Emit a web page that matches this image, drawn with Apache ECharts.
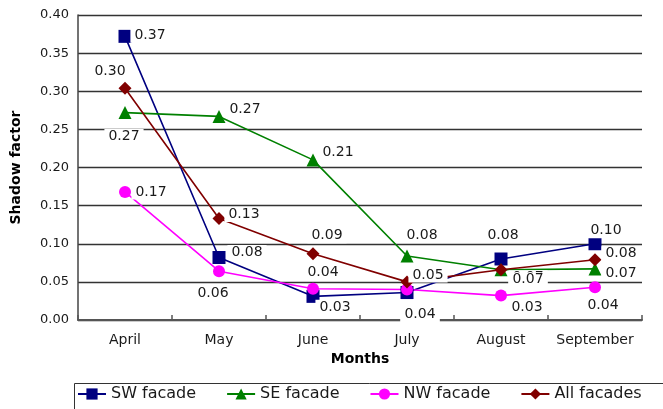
<!DOCTYPE html>
<html>
<head>
<meta charset="utf-8">
<script src="https://cdn.jsdelivr.net/npm/echarts@6/dist/echarts.min.js"></script>
<style>
  html, body { margin: 0; padding: 0; background: #fff; }
  #chart { width: 663px; height: 409px; }
</style>
</head>
<body>
<div id="chart"></div>
<script>
// Monthly shadow factor per facade orientation
const months = ['April', 'May', 'June', 'July', 'August', 'September'];
const yTicks = [0, 0.05, 0.10, 0.15, 0.20, 0.25, 0.30, 0.35, 0.40];

const swFacade  = [0.372, 0.082, 0.031, 0.036, 0.080, 0.100];
const seFacade  = [0.272, 0.267, 0.210, 0.084, 0.066, 0.067];
const nwFacade  = [0.168, 0.064, 0.041, 0.040, 0.032, 0.043];
const allFacade = [0.304, 0.133, 0.087, 0.050, 0.066, 0.079];

// Label placement (offset of the label centre from its marker, px)
const swLabelOffsets  = [[25, -1], [28, -5], [22, 11], [13, 22], [2, -24], [11, -13]];
const seLabelOffsets  = [[-1, 24], [26, -7], [25, -8], [15, -21], [27, 8], [26, 4]];
const nwLabelOffsets  = [[26, 0], [-6, 22], [10, -16], [13, 25], [26, 12], [8, 18]];
const allLabelOffsets = [[-15, -17], [25, -4], [14, -18], [21, -7], [27, 10], [26, -6]];

const FONT = '"DejaVu Sans", "Noto Sans", sans-serif';
const TEXT = '#1a1a1a';

function buildSeries(name, values, offsets, color, symbol, size) {
  return {
    name: name,
    type: 'line',
    data: values.map((v, i) => ({
      value: v,
      label: { offset: offsets[i] }
    })),
    symbol: symbol,
    symbolSize: size,
    showAllSymbol: true,
    animation: false,
    lineStyle: { color: color, width: 1.6 },
    itemStyle: { color: color, borderWidth: 0 },
    label: {
      show: true,
      position: 'inside',
      align: 'center',
      verticalAlign: 'middle',
      color: TEXT,
      fontFamily: FONT,
      fontSize: 14,
      lineHeight: 15,
      textBorderWidth: 0,
      backgroundColor: '#ffffff',
      padding: [0, 4],
      formatter: p => p.value.toFixed(2)
    },
    emphasis: { disabled: true }
  };
}

const chart = echarts.init(document.getElementById('chart'), null, { renderer: 'canvas' });

chart.setOption({
  backgroundColor: '#ffffff',
  animation: false,
  grid: { left: 78, right: 21, top: 15, bottom: 89, containLabel: false },
  xAxis: {
    type: 'category',
    data: months,
    boundaryGap: true,
    name: 'Months',
    nameLocation: 'middle',
    nameGap: 31,
    nameTextStyle: { fontFamily: FONT, fontSize: 14, fontWeight: 'bold', color: '#000' },
    axisLine: { show: true, lineStyle: { color: '#555', width: 2 } },
    axisTick: { show: true, inside: true, length: 5, interval: 0, lineStyle: { color: '#555', width: 1.5 } },
    axisLabel: { fontFamily: FONT, fontSize: 14, color: TEXT, margin: 13, interval: 0, hideOverlap: false },
    splitLine: { show: false }
  },
  yAxis: {
    type: 'value',
    min: yTicks[0],
    max: yTicks[yTicks.length - 1],
    interval: 0.05,
    name: 'Shadow factor',
    nameLocation: 'middle',
    nameRotate: 90,
    nameGap: 55,
    nameTextStyle: { fontFamily: FONT, fontSize: 14, fontWeight: 'bold', color: '#000' },
    axisLine: { show: true, lineStyle: { color: '#444', width: 1.5 } },
    axisTick: { show: false },
    axisLabel: {
      fontFamily: FONT, fontSize: 13, color: TEXT, margin: 9,
      formatter: v => v.toFixed(2)
    },
    splitLine: { show: true, lineStyle: { color: '#333', width: 1.3 } }
  },
  legend: {
    left: 77,
    top: 385,
    orient: 'horizontal',
    itemWidth: 28,
    itemHeight: 14,
    itemGap: 30,
    padding: 0,
    textStyle: { fontFamily: FONT, fontSize: 16, lineHeight: 18, color: TEXT },
    data: ['SW facade', 'SE facade', 'NW facade', 'All facades']
  },
  // legend frame, running past the right and bottom edges
  graphic: [{
    type: 'rect',
    left: 72,
    top: 381,
    shape: { width: 700, height: 60 },
    style: { fill: 'none', stroke: '#333', lineWidth: 1 },
    silent: true
  }],
  series: [
    buildSeries('SW facade', swFacade, swLabelOffsets, '#000080', 'rect', 13),
    buildSeries('SE facade', seFacade, seLabelOffsets, '#008000', 'triangle', 13),
    buildSeries('NW facade', nwFacade, nwLabelOffsets, '#ff00ff', 'circle', 12),
    buildSeries('All facades', allFacade, allLabelOffsets, '#800000', 'diamond', 13)
  ]
});
</script>
</body>
</html>
